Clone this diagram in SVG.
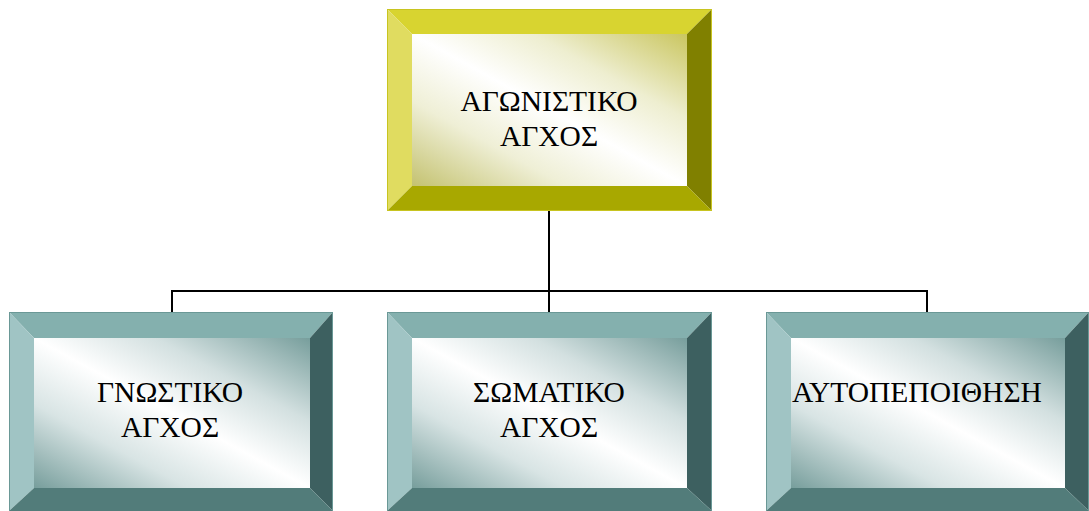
<svg xmlns="http://www.w3.org/2000/svg" width="1089" height="511" viewBox="0 0 1089 511">
<defs>
<linearGradient id="gy" x1="0" y1="1" x2="1" y2="0">
<stop offset="0" stop-color="#c4c270"/>
<stop offset="0.28" stop-color="#efefd6"/>
<stop offset="0.5" stop-color="#ffffff"/>
<stop offset="0.72" stop-color="#eeeed0"/>
<stop offset="1" stop-color="#cac660"/>
</linearGradient>
<linearGradient id="gt" x1="0" y1="1" x2="1" y2="0">
<stop offset="0" stop-color="#779e9c"/>
<stop offset="0.28" stop-color="#d8e4e4"/>
<stop offset="0.5" stop-color="#ffffff"/>
<stop offset="0.72" stop-color="#d3e0e0"/>
<stop offset="1" stop-color="#779e9c"/>
</linearGradient>
<style>
.t{font-family:"Liberation Serif","Times New Roman",serif;font-size:29.5px;fill:#000;text-anchor:middle}
.c{stroke:#000;stroke-width:2;fill:none}
.ytop{fill:#d8d430}.yleft{fill:#e0dc60}.yright{fill:#808000}.ybot{fill:#a8a800}
.ttop{fill:#84b0ae}.tleft{fill:#a0c4c4}.tright{fill:#3d6060}.tbot{fill:#527c7a}
.yout{fill:none;stroke:#c8c420;stroke-width:1}
.tout{fill:none;stroke:#6a9896;stroke-width:1}
</style>
</defs>
<g id="connectors">
<path class="c" d="M549,211 V312 M172,312 V291 H927 V312"/>
</g>
<g id="node-top">
<polygon class="ytop" points="387,9 712,9 687,34 412,34"/>
<polygon class="yleft" points="387,9 412,34 412,186 387,211"/>
<polygon class="yright" points="712,9 712,211 687,186 687,34"/>
<polygon class="ybot" points="387,211 412,186 687,186 712,211"/>
<rect x="412" y="34" width="275" height="152" fill="url(#gy)"/>
<rect class="yout" x="387.5" y="9.5" width="324" height="201"/>
<text class="t" x="549" y="111">ΑΓΩΝΙΣΤΙΚΟ</text>
<text class="t" x="549" y="146">ΑΓΧΟΣ</text>
</g>
<g id="node-left">
<polygon class="ttop" points="9,312 333,312 310,338 34,338"/>
<polygon class="tleft" points="9,312 34,338 34,488 9,511"/>
<polygon class="tright" points="333,312 333,511 310,488 310,338"/>
<polygon class="tbot" points="9,511 34,488 310,488 333,511"/>
<rect x="34" y="338" width="276" height="150" fill="url(#gt)"/>
<rect class="tout" x="9.5" y="312.5" width="323" height="199"/>
<text class="t" x="170" y="402">ΓΝΩΣΤΙΚΟ</text>
<text class="t" x="170" y="437">ΑΓΧΟΣ</text>
</g>
<g id="node-middle">
<polygon class="ttop" points="387,312 712,312 687,338 412,338"/>
<polygon class="tleft" points="387,312 412,338 412,488 387,511"/>
<polygon class="tright" points="712,312 712,511 687,488 687,338"/>
<polygon class="tbot" points="387,511 412,488 687,488 712,511"/>
<rect x="412" y="338" width="275" height="150" fill="url(#gt)"/>
<rect class="tout" x="387.5" y="312.5" width="324" height="199"/>
<text class="t" x="549" y="402">ΣΩΜΑΤΙΚΟ</text>
<text class="t" x="549" y="437">ΑΓΧΟΣ</text>
</g>
<g id="node-right">
<polygon class="ttop" points="766,312 1089,312 1065,338 791,338"/>
<polygon class="tleft" points="766,312 791,338 791,488 766,511"/>
<polygon class="tright" points="1089,312 1089,511 1065,488 1065,338"/>
<polygon class="tbot" points="766,511 791,488 1065,488 1089,511"/>
<rect x="791" y="338" width="274" height="150" fill="url(#gt)"/>
<rect class="tout" x="766.5" y="312.5" width="322" height="199"/>
<text class="t" x="917" y="402">ΑΥΤΟΠΕΠΟΙΘΗΣΗ</text>
</g>
</svg>
